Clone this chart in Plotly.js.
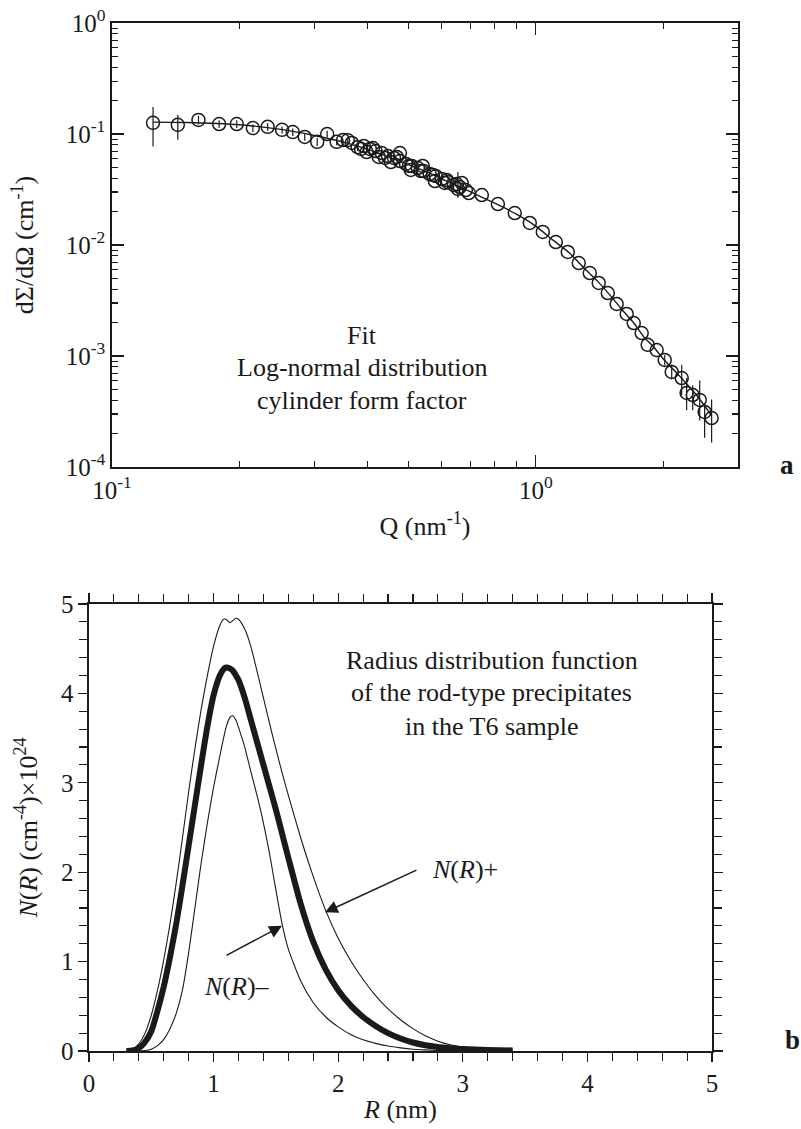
<!DOCTYPE html>
<html>
<head>
<meta charset="utf-8">
<script src="https://cdn.plot.ly/plotly-3.0.1.min.js"></script>
<style>
  html, body { margin: 0; padding: 0; background: #ffffff; }
  #chart { width: 801px; height: 1129px; }
</style>
</head>
<body>
<div id="chart"></div>
<script>
// ---------- Panel a : SANS cross section (log-log) ----------
// low-Q points
const qLow = [0.125, 0.143, 0.160, 0.179, 0.197, 0.215, 0.233, 0.252, 0.267, 0.285, 0.305, 0.322, 0.339, 0.360, 0.380];
const iLow = [0.126, 0.121, 0.134, 0.123, 0.123, 0.113, 0.116, 0.109, 0.104, 0.094, 0.085, 0.100, 0.085, 0.088, 0.076];
const errUpLow = [0.049, 0.028, 0.012, 0.010, 0.010, 0.009, 0.009, 0.008, 0.008, 0.007, 0.007, 0.007, 0.006, 0.006, 0.006];
const errDnLow = [0.049, 0.032, 0.012, 0.010, 0.010, 0.009, 0.009, 0.008, 0.008, 0.007, 0.007, 0.007, 0.006, 0.006, 0.006];

// overlapping region (two detector settings)
const qMidA = [0.393, 0.406, 0.419, 0.433, 0.448, 0.463, 0.478, 0.494, 0.510, 0.527, 0.544, 0.562, 0.581, 0.600, 0.620, 0.641, 0.662, 0.684];
const iMidA = [0.0779, 0.0733, 0.0703, 0.0674, 0.0633, 0.0608, 0.0571, 0.0537, 0.0515, 0.0494, 0.0464, 0.0436, 0.0418, 0.0393, 0.0369, 0.0347, 0.0333, 0.0313];
const qMidB = [0.351, 0.368, 0.387, 0.399, 0.413, 0.426, 0.441, 0.455, 0.470, 0.478, 0.502, 0.507, 0.536, 0.541, 0.572, 0.578, 0.610, 0.617, 0.651, 0.655, 0.669, 0.695];
const iMidB = [0.0883, 0.0830, 0.0733, 0.0688, 0.0748, 0.0621, 0.0608, 0.0559, 0.0621, 0.0674, 0.0515, 0.0474, 0.0464, 0.0515, 0.0427, 0.0377, 0.0362, 0.0385, 0.0354, 0.0320, 0.0362, 0.0294];
const errUpMidB = [0, 0, 0, 0, 0, 0, 0, 0, 0, 0, 0, 0, 0, 0, 0, 0, 0, 0, 0, 0.0135, 0, 0];
const errDnMidB = [0, 0, 0, 0, 0, 0, 0, 0, 0, 0, 0, 0, 0, 0, 0, 0, 0, 0, 0, 0.0055, 0, 0];

// high-Q points
const qHigh = [0.746, 0.814, 0.892, 0.968, 1.039, 1.115, 1.190, 1.263, 1.341, 1.408, 1.479, 1.552, 1.639, 1.703, 1.778, 1.837, 1.929, 2.015, 2.093, 2.210, 2.270, 2.346, 2.437, 2.503, 2.600];
const iHigh = [0.0282, 0.0234, 0.0194, 0.0158, 0.0131, 0.01064, 0.00865, 0.00688, 0.00559, 0.00455, 0.00369, 0.00294, 0.00239, 0.00198, 0.00161, 0.00126, 0.00113, 0.00092, 0.000718, 0.000633, 0.000464, 0.000445, 0.000402, 0.000313, 0.000276];
const errUpHigh = [0, 0, 0, 0, 0, 0, 0, 0, 0, 0, 0, 0, 0, 0, 0, 0, 0, 0.0001, 0.00012, 0.0002, 0.00017, 0.0001, 0.0002, 0.00006, 0.00013];
const errDnHigh = [0, 0, 0, 0, 0, 0, 0, 0, 0, 0, 0, 0, 0, 0, 0, 0, 0, 0.0001, 0.0001, 0.00019, 0.00014, 0.00012, 0.00014, 0.00013, 0.00011];

// fitted curve (log-normal distribution, cylinder form factor)
const fitQ = [0.125, 0.15, 0.2, 0.25, 0.3, 0.35, 0.4, 0.45, 0.5, 0.55, 0.6, 0.65, 0.7, 0.8, 0.9, 1.0, 1.1, 1.2, 1.3, 1.4, 1.5, 1.6, 1.7, 1.8, 1.9, 2.0, 2.2, 2.4, 2.6];
const fitI = [0.128, 0.127, 0.121, 0.110, 0.097, 0.085, 0.073, 0.062, 0.053, 0.046, 0.0395, 0.0345, 0.0302, 0.0238, 0.0190, 0.0148, 0.0110, 0.0085, 0.0062, 0.0047, 0.0035, 0.0026, 0.0020, 0.00148, 0.00120, 0.00094, 0.00064, 0.00044, 0.00029];

const aTickVals = [0.1, 1];
const aTickText = ['10<sup>-1</sup>', '10<sup>0</sup>'];
const aYTickVals = [0.0001, 0.001, 0.01, 0.1, 1];
const aYTickText = ['10<sup>-4</sup>', '10<sup>-3</sup>', '10<sup>-2</sup>', '10<sup>-1</sup>', '10<sup>0</sup>'];
const aText = ['Fit', 'Log-normal distribution', 'cylinder form factor'];

// ---------- Panel b : radius distribution ----------
const rGrid = [0.3, 0.35, 0.4, 0.45, 0.5, 0.55, 0.6, 0.65, 0.7, 0.75, 0.8, 0.85, 0.9, 0.95, 1.0, 1.05, 1.08, 1.1, 1.13, 1.15, 1.18, 1.2, 1.25, 1.3, 1.35, 1.4, 1.45, 1.5, 1.55, 1.6, 1.7, 1.8, 1.9, 2.0, 2.1, 2.2, 2.3, 2.4, 2.5, 2.6, 2.7, 2.8, 2.9, 3.0, 3.2, 3.4];
const nMain = [0, 0.005, 0.03, 0.1, 0.22, 0.45, 0.72, 1.05, 1.42, 1.85, 2.3, 2.75, 3.2, 3.63, 3.98, 4.2, 4.27, 4.29, 4.28, 4.26, 4.2, 4.15, 3.95, 3.7, 3.45, 3.2, 2.95, 2.7, 2.43, 2.16, 1.64, 1.22, 0.91, 0.68, 0.51, 0.38, 0.28, 0.2, 0.14, 0.095, 0.065, 0.045, 0.032, 0.022, 0.011, 0.006];
const nPlus = [0, 0.02, 0.08, 0.2, 0.4, 0.68, 1.02, 1.42, 1.88, 2.38, 2.9, 3.38, 3.82, 4.2, 4.53, 4.76, 4.83, 4.83, 4.79, 4.81, 4.84, 4.83, 4.72, 4.52, 4.24, 3.95, 3.66, 3.38, 3.11, 2.86, 2.38, 1.95, 1.57, 1.26, 1.01, 0.8, 0.62, 0.47, 0.35, 0.25, 0.17, 0.11, 0.07, 0.045, 0.02, 0.01];
const nMinus = [0, 0, 0, 0.005, 0.02, 0.06, 0.13, 0.25, 0.42, 0.68, 1.1, 1.6, 2.1, 2.55, 2.95, 3.3, 3.5, 3.62, 3.73, 3.75, 3.7, 3.62, 3.4, 3.12, 2.85, 2.55, 2.2, 1.8, 1.42, 1.14, 0.78, 0.54, 0.38, 0.27, 0.185, 0.125, 0.085, 0.055, 0.035, 0.02, 0.012, 0.006, 0.003, 0.001, 0, 0];
const bText = ['Radius distribution function', 'of the rod-type precipitates', 'in the T6 sample'];
const labelPlus = '<i>N</i>(<i>R</i>)+';
const labelMinus = '<i>N</i>(<i>R</i>)\u2013';

// ---------- minor tick positions for log axes ----------
function logMinors(lo, hi) {
  const out = [];
  for (let e = lo; e < hi; e++) {
    for (let m = 2; m <= 9; m++) out.push(m * Math.pow(10, e));
  }
  return out;
}

const INK = '#1a1a1a';
const SERIF = 'Liberation Serif, Times New Roman, serif';

const markerStyle = { symbol: 'circle-open', size: 13, color: INK, line: { color: INK, width: 1.5 } };
function pts(x, y, up, dn) {
  const t = { x: x, y: y, type: 'scatter', mode: 'markers', marker: markerStyle, xaxis: 'x', yaxis: 'y', hoverinfo: 'x+y' };
  if (up) t.error_y = { type: 'data', symmetric: false, array: up, arrayminus: dn, color: INK, thickness: 1.2, width: 0 };
  return t;
}

const traces = [
  { x: fitQ, y: fitI, type: 'scatter', mode: 'lines', line: { color: INK, width: 1.4, shape: 'spline', smoothing: 0.6 }, xaxis: 'x', yaxis: 'y' },
  pts(qLow, iLow, errUpLow, errDnLow),
  pts(qMidA, iMidA),
  pts(qMidB, iMidB, errUpMidB, errDnMidB),
  pts(qHigh, iHigh, errUpHigh, errDnHigh),
  { x: rGrid, y: nPlus, type: 'scatter', mode: 'lines', line: { color: INK, width: 1.1, shape: 'spline', smoothing: 0.6 }, xaxis: 'x2', yaxis: 'y2' },
  { x: rGrid, y: nMinus, type: 'scatter', mode: 'lines', line: { color: INK, width: 1.1, shape: 'spline', smoothing: 0.6 }, xaxis: 'x2', yaxis: 'y2' },
  { x: rGrid, y: nMain, type: 'scatter', mode: 'lines', line: { color: INK, width: 6, shape: 'spline', smoothing: 0.6 }, xaxis: 'x2', yaxis: 'y2' }
];

const axisCommon = {
  showline: true, linecolor: INK, linewidth: 1.6, mirror: 'ticks',
  showgrid: false, zeroline: false, tickcolor: INK, tickwidth: 1.3,
  tickfont: { family: SERIF, size: 25, color: INK }
};

const layout = {
  width: 801, height: 1129,
  margin: { l: 0, r: 0, t: 0, b: 0 },
  paper_bgcolor: '#ffffff', plot_bgcolor: '#ffffff',
  showlegend: false,
  font: { family: SERIF, color: INK, size: 25 },
  xaxis: Object.assign({}, axisCommon, {
    type: 'log', range: [-1, Math.log10(3)], domain: [0.1398, 0.9213], anchor: 'y',
    ticks: 'inside', ticklen: 12, tickmode: 'array', tickvals: aTickVals, ticktext: aTickText,
    minor: { tickmode: 'array', tickvals: logMinors(-1, 1), ticks: 'inside', ticklen: 6, tickwidth: 1.1, tickcolor: INK },
    title: { text: 'Q (nm<sup>-1</sup>)', font: { family: SERIF, size: 26, color: INK }, standoff: 14 }
  }),
  yaxis: Object.assign({}, axisCommon, {
    type: 'log', range: [-4, 0], domain: [0.5864, 0.9796], anchor: 'x',
    ticks: 'inside', ticklen: 12, tickmode: 'array', tickvals: aYTickVals, ticktext: aYTickText,
    minor: { tickmode: 'array', tickvals: logMinors(-4, 0), ticks: 'inside', ticklen: 6, tickwidth: 1.1, tickcolor: INK },
    title: { text: 'd\u03A3/d\u03A9 (cm<sup>-1</sup>)', font: { family: SERIF, size: 26, color: INK }, standoff: 24 }
  }),
  xaxis2: Object.assign({}, axisCommon, {
    range: [0, 5], domain: [0.1111, 0.8889], anchor: 'y2',
    ticks: 'outside', ticklen: 9, dtick: 1, tick0: 0,
    minor: { dtick: 0.2, ticks: 'outside', ticklen: 8, tickwidth: 1.1, tickcolor: INK },
    title: { text: '<i>R</i> (nm)', font: { family: SERIF, size: 26, color: INK }, standoff: 4 }
  }),
  yaxis2: Object.assign({}, axisCommon, {
    range: [0, 5], domain: [0.0691, 0.4650], anchor: 'x2',
    ticks: 'outside', ticklen: 9, dtick: 1, tick0: 0,
    minor: { dtick: 0.2, ticks: 'outside', ticklen: 8, tickwidth: 1.1, tickcolor: INK },
    title: { text: '<i>N</i>(<i>R</i>) (cm<sup>-4</sup>)\u00D710<sup>24</sup>', font: { family: SERIF, size: 26, color: INK }, standoff: 16 }
  }),
  annotations: [
    { xref: 'paper', yref: 'paper', x: 0.452, y: 0.7024, text: aText[0], showarrow: false, font: { family: SERIF, size: 26, color: INK }, xanchor: 'center', yanchor: 'middle' },
    { xref: 'paper', yref: 'paper', x: 0.452, y: 0.6741, text: aText[1], showarrow: false, font: { family: SERIF, size: 26, color: INK }, xanchor: 'center', yanchor: 'middle' },
    { xref: 'paper', yref: 'paper', x: 0.452, y: 0.6457, text: aText[2], showarrow: false, font: { family: SERIF, size: 26, color: INK }, xanchor: 'center', yanchor: 'middle' },
    { xref: 'paper', yref: 'paper', x: 0.614, y: 0.4154, text: bText[0], showarrow: false, font: { family: SERIF, size: 26, color: INK }, xanchor: 'center', yanchor: 'middle' },
    { xref: 'paper', yref: 'paper', x: 0.614, y: 0.3862, text: bText[1], showarrow: false, font: { family: SERIF, size: 26, color: INK }, xanchor: 'center', yanchor: 'middle' },
    { xref: 'paper', yref: 'paper', x: 0.614, y: 0.3561, text: bText[2], showarrow: false, font: { family: SERIF, size: 26, color: INK }, xanchor: 'center', yanchor: 'middle' },
    // N(R)+ label and arrow
    { xref: 'x2', yref: 'y2', x: 3.02, y: 2.03, text: labelPlus, showarrow: false, font: { family: SERIF, size: 26, color: INK }, xanchor: 'center', yanchor: 'middle' },
    { xref: 'x2', yref: 'y2', axref: 'x2', ayref: 'y2', x: 1.894, y: 1.551, ax: 2.64, ay: 2.031, text: '', showarrow: true, arrowhead: 2, arrowsize: 1.7, arrowwidth: 1.5, arrowcolor: INK },
    // N(R)- label and arrow
    { xref: 'x2', yref: 'y2', x: 1.19, y: 0.725, text: labelMinus, showarrow: false, font: { family: SERIF, size: 26, color: INK }, xanchor: 'center', yanchor: 'middle' },
    { xref: 'x2', yref: 'y2', axref: 'x2', ayref: 'y2', x: 1.549, y: 1.4, ax: 1.091, ay: 1.06, text: '', showarrow: true, arrowhead: 2, arrowsize: 1.7, arrowwidth: 1.5, arrowcolor: INK },
    // panel letters
    { xref: 'paper', yref: 'paper', x: 0.982, y: 0.588, text: '<b>a</b>', showarrow: false, font: { family: SERIF, size: 27, color: INK }, xanchor: 'center', yanchor: 'middle' },
    { xref: 'paper', yref: 'paper', x: 0.990, y: 0.079, text: '<b>b</b>', showarrow: false, font: { family: SERIF, size: 27, color: INK }, xanchor: 'center', yanchor: 'middle' }
  ]
};

Plotly.newPlot('chart', traces, layout, { displayModeBar: false, staticPlot: true });
</script>
</body>
</html>
